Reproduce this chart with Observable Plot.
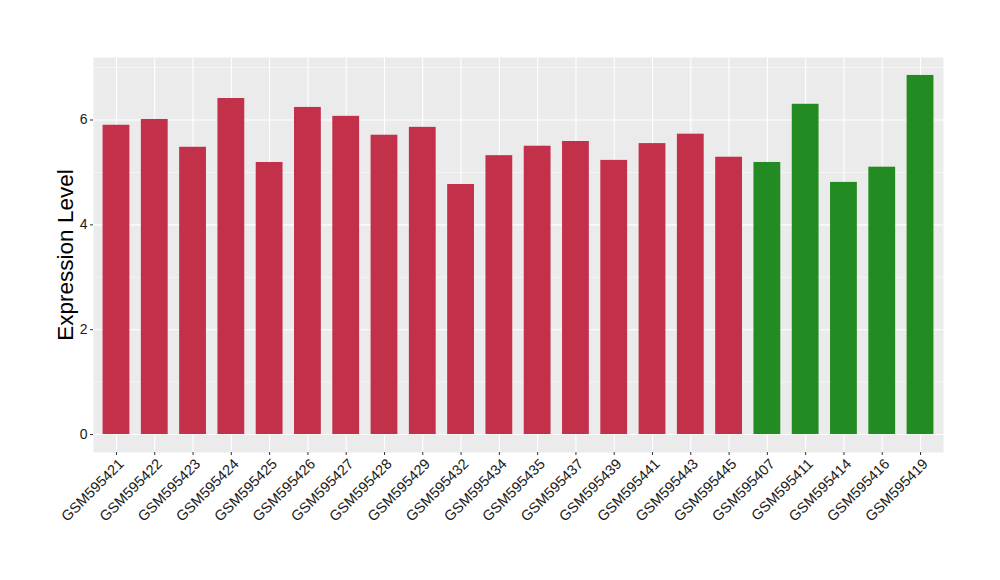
<!DOCTYPE html>
<html><head><meta charset="utf-8">
<script src="https://cdn.jsdelivr.net/npm/d3@7"></script>
<script src="https://cdn.jsdelivr.net/npm/@observablehq/plot@0.6"></script>
<style>body{margin:0;background:#fff;}</style>
</head><body><div id="chart"></div>
<script>
const samples = ["GSM595421","GSM595422","GSM595423","GSM595424","GSM595425","GSM595426","GSM595427","GSM595428","GSM595429","GSM595432","GSM595434","GSM595435","GSM595437","GSM595439","GSM595441","GSM595443","GSM595445","GSM595407","GSM595411","GSM595414","GSM595416","GSM595419"];
const values = [5.90,6.01,5.48,6.41,5.19,6.24,6.07,5.71,5.86,4.77,5.32,5.50,5.59,5.23,5.55,5.73,5.29,5.19,6.30,4.81,5.10,6.85];
const groups = ["A","A","A","A","A","A","A","A","A","A","A","A","A","A","A","A","A","B","B","B","B","B"];
const groupColors = {A: "#C2304A", B: "#228B22"};
const majorTicks = [0, 2, 4, 6];
const minorTicks = [1, 3, 5, 7];
const yTitle = "Expression Level";

const data = samples.map((s, i) => ({sample: s, value: values[i], group: groups[i]}));
const vmax = d3.max(values), vmin = Math.min(0, d3.min(values));
const pad = (vmax - vmin) * 0.05;

const font = "'Liberation Sans', Arial, Helvetica, sans-serif";
const chart = Plot.plot({
  width: 1000,
  height: 580,
  marginLeft: 93,
  marginRight: 57,
  marginTop: 57,
  marginBottom: 128,
  style: {fontFamily: font, background: "#fff", overflow: "visible"},
  x: {type: "band", domain: samples, paddingInner: 0.3, paddingOuter: 0.25, round: false, axis: null},
  y: {domain: [vmin - pad, vmax + pad], axis: null},
  marks: [
    Plot.frame({fill: "#EBEBEB", stroke: null}),
    Plot.ruleY(minorTicks.filter(t => t <= vmax + pad), {stroke: "#fff", strokeWidth: 0.55}),
    Plot.ruleY(majorTicks, {stroke: "#fff", strokeWidth: 1.1}),
    Plot.ruleX(samples, {x: d => d, stroke: "#fff", strokeWidth: 1.1}),
    Plot.barY(data, {x: "sample", y: "value", fill: d => groupColors[d.group]}),
    Plot.axisY({ticks: majorTicks, tickSize: 3, tickFormat: () => "", stroke: "#333", label: null}),
    Plot.text(majorTicks, {y: d => d, frameAnchor: "left", dx: -6, textAnchor: "end", lineAnchor: "middle", fontSize: 14, fill: "#1a1a1a"}),
    Plot.axisX({tickSize: 3, tickFormat: () => "", stroke: "#333", label: null}),
    Plot.text(samples, {x: d => d, frameAnchor: "bottom", dy: 5, dx: 1, rotate: -45, textAnchor: "end", lineAnchor: "top", fontSize: 14.5, fill: "#1a1a1a"}),
    Plot.text([yTitle], {frameAnchor: "left", dx: -28, rotate: -90, fontSize: 22.5, fill: "#000", textAnchor: "middle", lineAnchor: "middle"})
  ]
});
document.getElementById("chart").appendChild(chart);
</script>
</body></html>
